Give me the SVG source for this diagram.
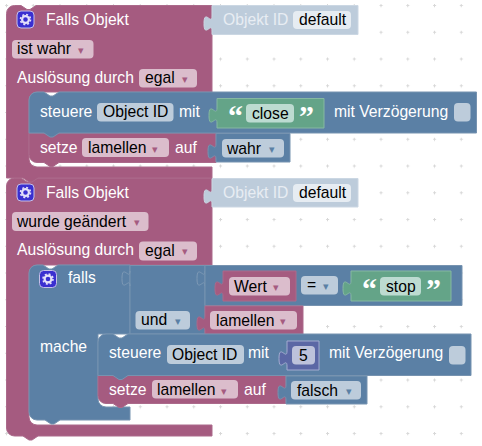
<svg xmlns="http://www.w3.org/2000/svg" width="482" height="446" viewBox="0 0 482 446">
<defs>
<pattern id="grid" patternUnits="userSpaceOnUse" x="-6.875" y="-7.875" width="26.75" height="26.75">
<path d="M12,13.375H15M13.375,12V15" stroke="#d8d8d8" stroke-width="1" fill="none"/>
</pattern>
<g id="gear">
<rect x="0.5" y="0.5" width="17" height="17" rx="4" fill="#3a2fd0" stroke="#c5bfe8" stroke-width="1"/>
<circle cx="9" cy="9" r="3.4" fill="none" stroke="#e4e0fa" stroke-width="2.2"/>
<circle cx="9" cy="9" r="5" fill="none" stroke="#e4e0fa" stroke-width="1.6" stroke-dasharray="2 1.93"/>
</g>
</defs>
<style>
text{font-family:"Liberation Sans",Arial,sans-serif;font-size:15.7px;white-space:pre}
.w{fill:#fff}.k{fill:#000}.s{fill:#e8edf3}
.p{fill:#a55b80;stroke:#ab6a8b;stroke-width:1}
.b{fill:#5b80a5;stroke:#7793b0;stroke-width:1}
.g{fill:#64a488;stroke:#86b8a2;stroke-width:1}
.m{fill:#5b67a5;stroke:#a3abd0;stroke-width:1}
.l{fill:#bdccdb;stroke:#cbd7e3;stroke-width:1}
.fp{fill:#dbbdcc}.fb{fill:#bdccdb}.fg{fill:#bddbd1}.fm{fill:#bdc2db}.fl{fill:#e6ecf2}
.ap{fill:#a55b80}.ab{fill:#5b80a5}
.t{font-family:"DejaVu Sans",sans-serif;font-size:11px}
.q{font-family:"Liberation Serif",serif;font-size:30px;font-weight:bold;fill:#fff}
.sock{fill:none;stroke:#7e9ab6;stroke-width:1}
</style>
<rect width="482" height="446" fill="#fff"/>
<rect width="482" height="446" fill="url(#grid)"/>

<g id="block2">
<path class="p" d="M6.500,186a8,8 0 0 1 8,-8H21l6,4 3,0 6,-4H212V265H37a8,8 0 0 0 -8,8V417a8,8 0 0 0 8,8H212V436H38l-6,4 -3,0 -6,-4H14.500a8,8 0 0 1 -8,-8Z"/>
<g id="objid2">
<path class="l" d="M212,178.500H358V207H212V204c0,-10 -8,8 -8,-7.500s8,2.500 8,-7.500Z"/>
<text x="223" y="198" class="s">Objekt ID</text>
<rect class="fl" x="293" y="184" width="58" height="18" rx="4"/>
<text x="299" y="198" class="k">default</text>
</g>
<use href="#gear" x="16.500" y="183.500"/>
<text x="46" y="198" class="w">Falls Objekt</text>
<rect class="fp" x="12" y="212" width="136.500" height="19" rx="4"/>
<text x="17" y="226.500" class="k">wurde geändert</text>
<text x="134" y="226" class="t ap">▾</text>
<text x="17" y="255" class="w">Auslösung durch</text>
<rect class="fp" x="139" y="241.500" width="58" height="19" rx="4"/>
<text x="145" y="255.500" class="k">egal</text>
<text x="182" y="255" class="t ap">▾</text>
</g>

<g id="falls">
<path class="b" d="M29,273a8,8 0 0 1 8,-8H43l6,4 3,0 6,-4H130V334H98V399a8,8 0 0 0 8,8H130V420H60l-6,4 -3,0 -6,-4H37a8,8 0 0 1 -8,-8Z"/>
<use href="#gear" x="39" y="270"/>
<text x="68" y="283" class="w">falls</text>
<text x="40" y="352" class="w">mache</text>
</g>

<g id="und">
<path class="b" d="M130,265.500H205V334H130Z"/>
<path class="sock" d="M130,271c0,10 -8,-8 -8,7.500s8,-2.500 8,7.500"/>
<path class="sock" d="M205,271c0,10 -8,-8 -8,7.500s8,-2.500 8,7.500"/>
<rect class="fb" x="135.500" y="311" width="54.500" height="18.500" rx="4"/>
<text x="141" y="325" class="k">und</text>
<text x="175" y="324.500" class="t ab">▾</text>
</g>

<g id="gleich">
<path class="b" d="M205,265.500H462V305.500H205Z"/>
<rect class="fb" x="301" y="276" width="37" height="18.500" rx="4"/>
<text x="307" y="290" class="k">=</text>
<text x="323" y="290" class="t ab">▾</text>
</g>

<g id="wert">
<path class="p" d="M223,271H296V301H223V296c0,-10 -8,8 -8,-7.500s8,2.500 8,-7.500Z"/>
<rect class="fp" x="229" y="277" width="61" height="18.500" rx="4"/>
<text x="234" y="291.500" class="k">Wert</text>
<text x="273" y="291" class="t ap">▾</text>
</g>

<g id="stop">
<path class="g" d="M351,271H451V301H351V296c0,-10 -8,8 -8,-7.500s8,2.500 8,-7.500Z"/>
<text x="362" y="299" class="q">“</text>
<rect class="fg" x="380" y="277" width="41" height="18.500" rx="4"/>
<text x="386" y="291.500" class="k">stop</text>
<text x="426" y="299" class="q">”</text>
</g>

<g id="lamellen2">
<path class="p" d="M205,306H303V334H205V331c0,-10 -8,8 -8,-7.500s8,2.500 8,-7.500Z"/>
<rect class="fp" x="210" y="311" width="87" height="18.500" rx="4"/>
<text x="216" y="325.500" class="k">lamellen</text>
<text x="280" y="325" class="t ap">▾</text>
</g>

<g id="setze2">
<path class="p" d="M98,375.500H286V403.500H128l-6,4 -3,0 -6,-4H106a8,8 0 0 1 -8,-8Z"/>
<text x="109" y="395" class="w">setze</text>
<rect class="fp" x="152" y="380" width="86" height="18.500" rx="4"/>
<text x="157" y="395" class="k">lamellen</text>
<text x="221" y="394.500" class="t ap">▾</text>
<text x="244" y="395" class="w">auf</text>
</g>

<g id="falsch">
<path class="b" d="M286,376H367V404H286V400c0,-10 -8,8 -8,-7.500s8,2.500 8,-7.500Z"/>
<rect class="fb" x="291" y="381" width="70" height="18.500" rx="4"/>
<text x="297" y="395.500" class="k">falsch</text>
<text x="346" y="395" class="t ab">▾</text>
</g>

<g id="steuere2">
<path class="b" d="M98,342a8,8 0 0 1 8,-8H113l6,4 3,0 6,-4H471V375.500H128l-6,4 -3,0 -6,-4H98Z"/>
<text x="109" y="358" class="w">steuere</text>
<rect class="fb" x="167" y="345" width="77" height="19" rx="4"/>
<text x="172" y="359.500" class="k">Object ID</text>
<text x="248" y="358" class="w">mit</text>
<text x="329" y="358" class="w">mit Verzögerung</text>
<rect class="fb" x="449" y="346" width="16.500" height="18.500" rx="4"/>
</g>

<g id="zahl">
<path class="m" d="M287,341H319V370H287V366c0,-10 -8,8 -8,-7.500s8,2.500 8,-7.500Z"/>
<rect class="fm" x="292" y="346" width="23" height="18.500" rx="4"/>
<text x="299" y="360.500" class="k">5</text>
</g>

<g id="block1">
<path class="p" d="M6.500,13.500a8,8 0 0 1 8,-8H21l6,4 3,0 6,-4H212V92H37a8,8 0 0 0 -8,8V159a8,8 0 0 0 8,8H212V178H38l-6,4 -3,0 -6,-4H6.500Z"/>
<use href="#gear" x="16.500" y="10.500"/>
<text x="46" y="25" class="w">Falls Objekt</text>
<rect class="fp" x="12" y="40" width="81.500" height="18.500" rx="4"/>
<text x="17" y="54" class="k">ist wahr</text>
<text x="78" y="54" class="t ap">▾</text>
<text x="17" y="83" class="w">Auslösung durch</text>
<rect class="fp" x="139" y="69" width="58" height="18.500" rx="4"/>
<text x="145" y="83" class="k">egal</text>
<text x="182" y="83" class="t ap">▾</text>
<g id="objid1">
<path class="l" d="M212,5.500H358V34.500H212V31c0,-10 -8,8 -8,-7.500s8,2.500 8,-7.500Z"/>
<text x="223" y="25" class="s">Objekt ID</text>
<rect class="fl" x="293" y="11" width="58" height="18" rx="4"/>
<text x="299" y="25" class="k">default</text>
</g>
</g>

<g id="setze1">
<path class="p" d="M29,133H216V162.500H59l-6,4 -3,0 -6,-4H37a8,8 0 0 1 -8,-8Z"/>
<text x="40" y="152.500" class="w">setze</text>
<rect class="fp" x="82" y="138" width="87" height="19" rx="4"/>
<text x="88" y="153" class="k">lamellen</text>
<text x="152" y="152.500" class="t ap">▾</text>
<text x="175" y="152.500" class="w">auf</text>
</g>

<g id="wahr">
<path class="b" d="M216,133.500H290V162H216V159c0,-10 -8,8 -8,-7.500s8,2.500 8,-7.500Z"/>
<rect class="fb" x="222" y="139" width="62" height="18.500" rx="4"/>
<text x="227" y="153.500" class="k">wahr</text>
<text x="269" y="153" class="t ab">▾</text>
</g>

<g id="steuere1">
<path class="b" d="M29,100a8,8 0 0 1 8,-8H44l6,4 3,0 6,-4H476.500V133H59l-6,4 -3,0 -6,-4H29Z"/>
<text x="40" y="116.500" class="w">steuere</text>
<rect class="fb" x="97" y="103" width="76.500" height="18.500" rx="4"/>
<text x="103" y="117" class="k">Object ID</text>
<text x="179" y="116.500" class="w">mit</text>
<text x="334" y="116.500" class="w">mit Verzögerung</text>
<rect class="fb" x="454" y="103" width="16.500" height="18.500" rx="4"/>
</g>

<g id="close">
<path class="g" d="M217,98.500H324V128H217V123c0,-10 -8,8 -8,-7.500s8,2.500 8,-7.500Z"/>
<text x="228" y="126" class="q">“</text>
<rect class="fg" x="246" y="104" width="48" height="18.500" rx="4"/>
<text x="252" y="118.500" class="k">close</text>
<text x="299" y="126" class="q">”</text>
</g>
</svg>
